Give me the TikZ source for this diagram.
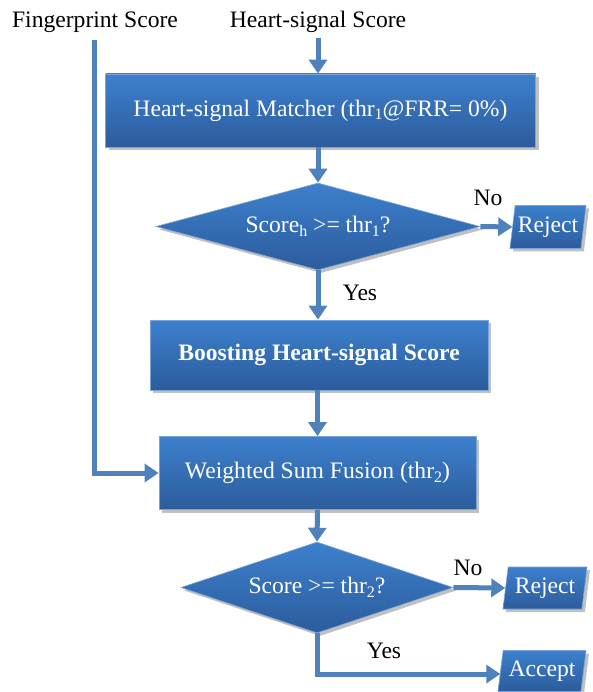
\documentclass[tikz,border=0pt]{standalone}
\usepackage{fontspec}
\setmainfont{Liberation Serif}
\usetikzlibrary{shapes.geometric,arrows.meta,shadows}
\definecolor{boxtop}{HTML}{3D80CD}
\definecolor{boxbot}{HTML}{2C5C9C}
\definecolor{boxedge}{HTML}{7AA3D6}
\definecolor{arr}{HTML}{4F81BD}
\newcommand{\lowsub}[1]{\raisebox{-0.35ex}{\fontsize{16}{18}\selectfont #1}}
\begin{document}
\begin{tikzpicture}[x=1pt,y=-1pt,
  font=\fontsize{23.6}{27}\selectfont,
  shade/.style={drop shadow={shadow xshift=3pt,shadow yshift=-3pt,fill=black!45,opacity=0.55}},
  proc/.style={rectangle,draw=boxedge,line width=0.8pt,top color=boxtop,bottom color=boxbot,text=white,inner sep=0pt,shade},
  decision/.style={diamond,draw=boxedge,line width=0.6pt,top color=boxtop,bottom color=boxbot,text=white,inner sep=0pt,aspect=3.8,shade},
  term/.style={trapezium,trapezium left angle=76,trapezium right angle=104,trapezium stretches body,draw=boxedge,line width=0.6pt,top color=boxtop,bottom color=boxbot,text=white,inner sep=0pt,shade},
  flow/.style={draw=arr,line width=5pt,-{Triangle[length=14pt,width=18pt]}},
  lbl/.style={text=black,inner sep=0pt}
]
\useasboundingbox (0,0) rectangle (592,692);

\node[lbl] (fp) at (95,22) {Fingerprint Score};
\node[lbl] (hs) at (318,22) {Heart-signal Score};

\node[proc,minimum width=430pt,minimum height=73pt] (m1) at (320.5,110.5) {Heart-signal Matcher (thr\lowsub{1}@FRR= 0\%)};
\node[decision,minimum width=324pt,minimum height=87pt] (d1) at (318,226.5) {Score\lowsub{h} >= thr\lowsub{1}?};
\node[term,minimum width=76pt,minimum height=43pt] (r1) at (548,227) {Reject};
\node[proc,minimum width=338pt,minimum height=70pt] (b2) at (319,355) {\bfseries Boosting Heart-signal Score};
\node[proc,minimum width=317pt,minimum height=73pt] (f3) at (317.5,473) {Weighted Sum Fusion (thr\lowsub{2})};
\node[decision,minimum width=272pt,minimum height=91pt] (d2) at (317,587.5) {Score >= thr\lowsub{2}?};
\node[term,minimum width=84pt,minimum height=42pt] (r2) at (545,588) {Reject};
\node[term,minimum width=88pt,minimum height=41pt] (ac) at (542,671) {Accept};

\node[lbl] (no1) at (488,198) {No};
\node[lbl] (yes1) at (360,293) {Yes};
\node[lbl] (no2) at (468,568) {No};
\node[lbl] (yes2) at (384,651) {Yes};

\coordinate (fptop) at (94,40);
\coordinate (hstop) at (318,38);
\coordinate (bend) at (317,674);

\draw[flow] (hstop) -- (hstop |- m1.north);
\draw[flow] (m1.south -| d1.north) -- (d1.north);
\draw[flow] (d1.east) -- (r1.west);
\draw[flow] (d1.south) -- (d1.south |- b2.north);
\draw[flow] (b2.south -| f3.north) -- (f3.north);
\draw[flow] (f3.south) -- (d2.north);
\draw[flow] (d2.east) -- (r2.west);
\draw[flow] (d2.south) -- (bend) -- (bend -| ac.west);
\draw[flow] (fptop) -- (fptop |- f3.west) -- (f3.west);
\end{tikzpicture}
\end{document}
